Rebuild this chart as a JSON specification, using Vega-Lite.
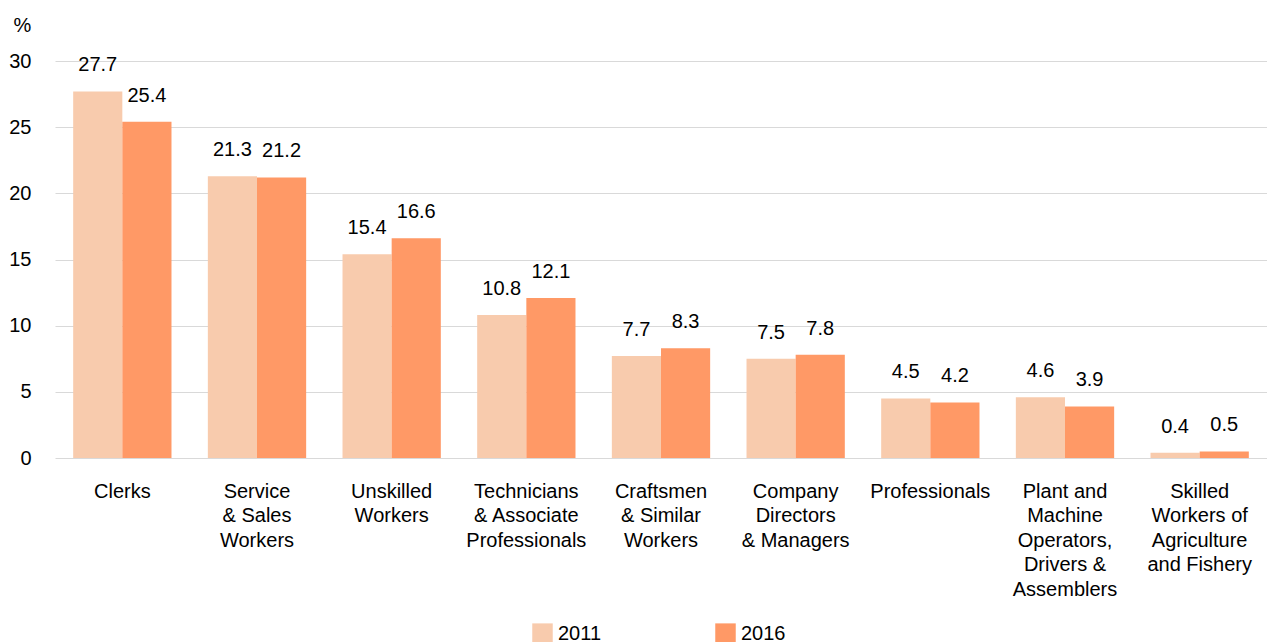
{
  "$schema": "https://vega.github.io/schema/vega-lite/v6.json",
  "width": 1212,
  "height": 397,
  "autosize": {"type": "none"},
  "padding": {"left": 55, "top": 61, "right": 0, "bottom": 184},
  "config": {"font": "Liberation Sans", "view": {"stroke": null}},
  "data": {
    "values": [
      {"occupation": "Clerks", "year": "2011", "pct": 27.7},
      {"occupation": "Clerks", "year": "2016", "pct": 25.4},
      {"occupation": "Service|& Sales|Workers", "year": "2011", "pct": 21.3},
      {"occupation": "Service|& Sales|Workers", "year": "2016", "pct": 21.2},
      {"occupation": "Unskilled|Workers", "year": "2011", "pct": 15.4},
      {"occupation": "Unskilled|Workers", "year": "2016", "pct": 16.6},
      {"occupation": "Technicians|& Associate|Professionals", "year": "2011", "pct": 10.8},
      {"occupation": "Technicians|& Associate|Professionals", "year": "2016", "pct": 12.1},
      {"occupation": "Craftsmen|& Similar|Workers", "year": "2011", "pct": 7.7},
      {"occupation": "Craftsmen|& Similar|Workers", "year": "2016", "pct": 8.3},
      {"occupation": "Company|Directors|& Managers", "year": "2011", "pct": 7.5},
      {"occupation": "Company|Directors|& Managers", "year": "2016", "pct": 7.8},
      {"occupation": "Professionals", "year": "2011", "pct": 4.5},
      {"occupation": "Professionals", "year": "2016", "pct": 4.2},
      {"occupation": "Plant and|Machine|Operators,|Drivers &|Assemblers", "year": "2011", "pct": 4.6},
      {"occupation": "Plant and|Machine|Operators,|Drivers &|Assemblers", "year": "2016", "pct": 3.9},
      {"occupation": "Skilled|Workers of|Agriculture|and Fishery", "year": "2011", "pct": 0.4},
      {"occupation": "Skilled|Workers of|Agriculture|and Fishery", "year": "2016", "pct": 0.5}
    ]
  },
  "encoding": {
    "x": {
      "field": "occupation",
      "type": "nominal",
      "sort": null,
      "scale": {"paddingInner": 0.27, "paddingOuter": 0.135},
      "axis": {
        "title": null,
        "domain": false,
        "ticks": false,
        "labelAngle": 0,
        "labelFontSize": 20,
        "labelColor": "#000000",
        "labelBaseline": "top",
        "labelPadding": 23,
        "labelLineHeight": 24.6,
        "labelLimit": 300,
        "labelOverlap": false,
        "labelExpr": "split(datum.label, '|')"
      }
    },
    "xOffset": {"field": "year", "type": "nominal"},
    "y": {
      "field": "pct",
      "type": "quantitative",
      "scale": {"domain": [0, 30], "nice": false},
      "axis": {
        "values": [0, 5, 10, 15, 20, 25, 30],
        "domain": false,
        "ticks": false,
        "gridColor": "#d9d9d9",
        "gridWidth": 1,
        "labelFontSize": 20,
        "labelColor": "#000000",
        "labelPadding": 24,
        "title": "%",
        "titleFontSize": 20,
        "titleFontWeight": "normal",
        "titleColor": "#000000",
        "titleAngle": 0,
        "titleAlign": "center",
        "titleBaseline": "middle",
        "titleX": -33,
        "titleY": -36
      }
    }
  },
  "layer": [
    {
      "mark": {"type": "bar"},
      "encoding": {
        "color": {
          "field": "year",
          "type": "nominal",
          "scale": {"domain": ["2011", "2016"], "range": ["#F8CBAD", "#FF9966"]},
          "legend": {
            "title": null,
            "orient": "none",
            "direction": "horizontal",
            "legendX": 477,
            "legendY": 562,
            "padding": 0,
            "symbolType": "square",
            "symbolSize": 420,
            "symbolStrokeWidth": 0,
            "symbolOpacity": 1,
            "labelFontSize": 20,
            "labelColor": "#000000",
            "labelOffset": 5,
            "columnPadding": 113
          }
        }
      }
    },
    {
      "mark": {"type": "text", "baseline": "alphabetic", "dy": -20, "fontSize": 20, "color": "#000000"},
      "encoding": {
        "text": {"field": "pct", "type": "quantitative", "format": ".1f"}
      }
    }
  ]
}
